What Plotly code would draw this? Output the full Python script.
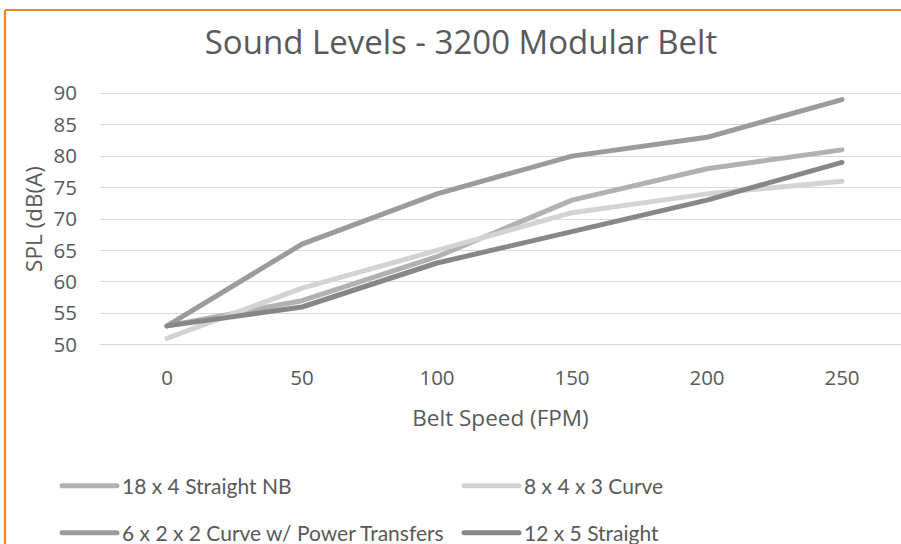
import plotly.graph_objects as go

speeds = [0, 50, 100, 150, 200, 250]
tick_labels = ["0", "50", "100", "150", "200", "250"]
series_names = ["18 x 4 Straight NB", "8 x 4 x 3 Curve",
                "6 x 2 x 2 Curve w/ Power Transfers", "12 x 5 Straight"]
straight_18x4 = [53, 57, 64, 73, 78, 81]
curve_8x4x3 = [51, 59, 65, 71, 74, 76]
curve_6x2x2 = [53, 66, 74, 80, 83, 89]
straight_12x5 = [53, 56, 63, 68, 73, 79]
series_values = [straight_18x4, curve_8x4x3, curve_6x2x2, straight_12x5]
series_colors = ["#b1b1b1", "#d3d3d3", "#9b9b9b", "#878787"]
y_ticks = [50, 55, 60, 65, 70, 75, 80, 85, 90]

W, H = 901, 544
ML, MR, MT, MB = 100, 0, 87, 193
pw = W - ML - MR
ph = H - MT - MB
y_range = [49, 91]
x_px_per_50 = 135.0
x0_px = 167.0
x_lo = -(x0_px - ML) / x_px_per_50 * 50
x_hi = x_lo + pw / x_px_per_50 * 50

def px_to_paper_x(px):
    return (px - ML) / pw

def px_to_paper_y(py):
    return (H - MB - py) / ph

# legend placement (left px, centre-y px) for each series
legend_ids = ["legend", "legend2", "legend3", "legend4"]
legend_pos = [(57, 486), (459, 486), (57, 533), (459, 533)]

grey = "#595959"
fig = go.Figure()
for name, vals, col, lg in zip(series_names, series_values, series_colors, legend_ids):
    fig.add_trace(go.Scatter(
        x=speeds, y=vals, name=name, mode="lines",
        line=dict(color=col, width=5), legend=lg, showlegend=True,
    ))

legend_layouts = {}
for lg, (lx, ly) in zip(legend_ids, legend_pos):
    legend_layouts[lg] = dict(
        orientation="h", x=px_to_paper_x(lx), xanchor="left",
        y=px_to_paper_y(ly), yanchor="middle", itemwidth=55,
        font=dict(family="Lato", size=21, color=grey),
        bgcolor="rgba(0,0,0,0)", visible=True)

fig.update_layout(
    width=W, height=H, showlegend=True,
    margin=dict(l=ML, r=MR, t=MT, b=MB, autoexpand=False),
    paper_bgcolor="white", plot_bgcolor="white",
    title=dict(text="Sound Levels - 3200 Modular Belt",
               font=dict(family="Open Sans", size=33, color=grey),
               x=px_to_paper_x(461), xanchor="center", xref="paper",
               y=1 - 42 / H, yanchor="middle"),
    xaxis=dict(range=[x_lo, x_hi], tickvals=speeds, ticktext=tick_labels,
               showgrid=False, zeroline=False, showline=False,
               ticks="", ticklabelstandoff=12,
               tickfont=dict(family="Open Sans", size=20.5, color=grey),
               title=dict(text="Belt Speed (FPM)", standoff=20,
                          font=dict(family="Open Sans", size=22.5, color=grey)),
               automargin=False),
    yaxis=dict(range=y_range, tickvals=y_ticks, showgrid=True,
               gridcolor="#d9d9d9", gridwidth=1.3, zeroline=False,
               showline=False, ticks="", ticklabelstandoff=22,
               tickfont=dict(family="Open Sans", size=20.5, color=grey),
               title=dict(text="SPL (dB(A)", standoff=4,
                          font=dict(family="Open Sans", size=22.5, color=grey)),
               automargin=False),
    shapes=[
        dict(type="line", xref="paper", yref="paper",
             x0=px_to_paper_x(5), x1=px_to_paper_x(W + 5),
             y0=px_to_paper_y(10), y1=px_to_paper_y(10),
             line=dict(color="#F5821F", width=2.2)),
        dict(type="line", xref="paper", yref="paper",
             x0=px_to_paper_x(5), x1=px_to_paper_x(5),
             y0=px_to_paper_y(10), y1=px_to_paper_y(H + 5),
             line=dict(color="#F5821F", width=2.2)),
    ],
    **legend_layouts,
)

post = """
document.body.style.margin='0';
document.body.style.overflow='hidden';
document.querySelectorAll('path.js-line').forEach(function(p){
  p.style.strokeLinecap='round'; p.style.strokeLinejoin='round';
});
"""
fig.write_html("out.html", post_script=post, config={"displayModeBar": False})
